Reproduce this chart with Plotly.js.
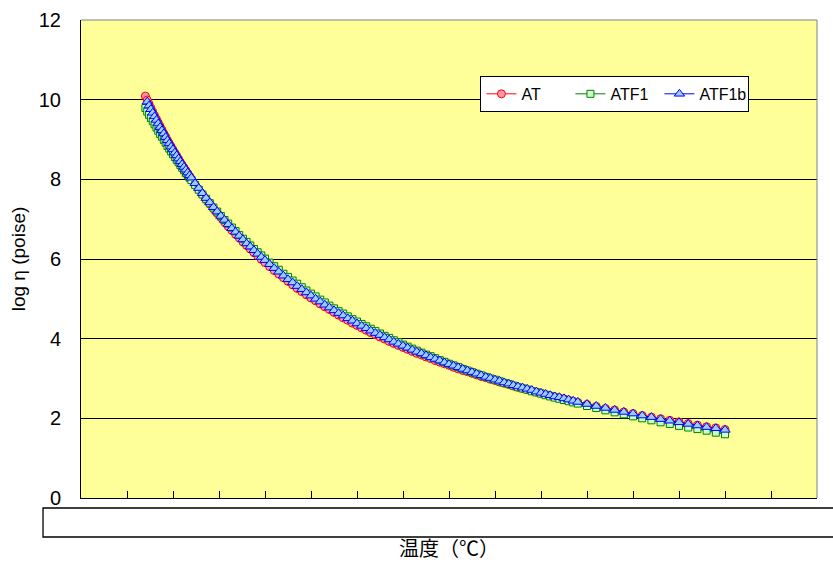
<!DOCTYPE html>
<html>
<head>
<meta charset="utf-8">
<script src="https://cdn.plot.ly/plotly-3.0.1.min.js"></script>
<style>
  html, body { margin: 0; padding: 0; background: #ffffff; }
  #chart { width: 833px; height: 562px; }
</style>
</head>
<body>
<div id="chart"></div>
<script>
// Temperatures (°C) at which viscosity was evaluated
const temps = [
  470,472,474,476,478,480,482,484,486,488,490,492,494,496,498,500,502,504,506,508,510,512,514,516,518,520,
  524,528,532,536,540,544,548,552,556,560,564,568,572,576,580,584,588,592,596,600,
  605,610,615,620,625,630,635,640,645,650,655,660,665,670,675,680,685,690,695,700,
  705,710,715,720,725,730,735,740,745,750,755,760,765,770,775,780,785,790,795,800,
  805,810,815,820,825,830,835,840,845,850,855,860,865,870,875,880,885,890,895,900,
  905,910,915,920,925,930,935,
  940,950,960,970,980,990,1000,1010,1020,1030,1040,1050,1060,1070,1080,1090,1100
];

// log η (poise) for each glass
const logEtaAT = [
  10.09,9.99,9.89,9.79,9.69,9.60,9.51,9.42,9.33,9.24,9.15,9.07,8.98,8.90,8.82,8.74,8.66,8.59,8.51,8.43,8.36,8.29,8.22,8.15,8.08,8.01,
  7.87,7.74,7.62,7.49,7.38,7.26,7.15,7.04,6.93,6.82,6.72,6.62,6.53,6.43,6.34,6.25,6.16,6.08,5.99,5.91,
  5.81,5.71,5.62,5.53,5.44,5.35,5.26,5.18,5.10,5.02,4.95,4.87,4.80,4.73,4.66,4.59,4.52,4.46,4.39,4.33,
  4.27,4.21,4.15,4.10,4.04,3.99,3.93,3.88,3.83,3.78,3.73,3.68,3.63,3.59,3.54,3.50,3.45,3.41,3.37,3.33,
  3.28,3.24,3.20,3.17,3.13,3.09,3.05,3.02,2.98,2.95,2.91,2.88,2.85,2.81,2.78,2.75,2.72,2.69,2.66,2.63,
  2.60,2.57,2.54,2.51,2.49,2.46,2.43,
  2.40,2.35,2.30,2.25,2.21,2.16,2.12,2.07,2.03,1.99,1.95,1.91,1.87,1.83,1.79,1.76,1.72
];

const logEtaATF1 = [
  9.79,9.70,9.62,9.54,9.46,9.38,9.30,9.22,9.14,9.07,8.99,8.92,8.84,8.77,8.70,8.63,8.56,8.49,8.43,8.36,8.29,8.23,8.16,8.10,8.04,7.98,
  7.86,7.74,7.62,7.51,7.40,7.29,7.19,7.08,6.98,6.89,6.79,6.70,6.60,6.51,6.43,6.34,6.25,6.17,6.09,6.01,
  5.91,5.82,5.73,5.63,5.55,5.46,5.38,5.29,5.21,5.13,5.06,4.98,4.91,4.83,4.76,4.69,4.63,4.56,4.49,4.43,
  4.37,4.31,4.25,4.19,4.13,4.07,4.02,3.96,3.91,3.85,3.80,3.75,3.70,3.65,3.60,3.56,3.51,3.46,3.42,3.37,
  3.33,3.29,3.24,3.20,3.16,3.12,3.08,3.04,3.00,2.97,2.93,2.89,2.86,2.82,2.78,2.75,2.72,2.68,2.65,2.62,
  2.58,2.55,2.52,2.49,2.46,2.43,2.40,
  2.37,2.31,2.26,2.20,2.15,2.10,2.05,2.00,1.95,1.90,1.86,1.81,1.77,1.73,1.69,1.64,1.60
];

// ATF1b series begins one step later (472 °C)
const logEtaATF1b = [
  9.95,9.85,9.76,9.67,9.58,9.49,9.40,9.31,9.23,9.15,9.06,8.98,8.90,8.82,8.75,8.67,8.60,8.52,8.45,8.38,8.31,8.24,8.17,8.10,8.04,
  7.90,7.78,7.65,7.53,7.42,7.30,7.19,7.08,6.98,6.87,6.77,6.68,6.58,6.49,6.39,6.31,6.22,6.13,6.05,5.97,
  5.87,5.77,5.68,5.58,5.49,5.41,5.32,5.24,5.16,5.08,5.00,4.93,4.85,4.78,4.71,4.64,4.58,4.51,4.45,4.38,
  4.32,4.26,4.20,4.14,4.09,4.03,3.98,3.92,3.87,3.82,3.77,3.72,3.67,3.63,3.58,3.53,3.49,3.45,3.40,3.36,
  3.32,3.28,3.24,3.20,3.16,3.12,3.08,3.04,3.01,2.97,2.94,2.90,2.87,2.83,2.80,2.77,2.74,2.71,2.67,2.64,
  2.61,2.58,2.55,2.53,2.50,2.47,2.44,
  2.41,2.36,2.31,2.26,2.21,2.16,2.12,2.07,2.03,1.98,1.94,1.90,1.86,1.82,1.78,1.75,1.71
];

const seriesNames = ['AT', 'ATF1', 'ATF1b'];
const xTitle = '温度（℃）';
const yTitle = 'log η (poise)';

const LATIN = '"Liberation Sans", "Noto Sans CJK JP", sans-serif';
const CJK = '"Noto Sans CJK JP", "Liberation Sans", sans-serif';

// align each series with the tail of the temperature list
function xsFor(vals) { return temps.slice(temps.length - vals.length); }

const traces = [
  {
    name: seriesNames[0], x: xsFor(logEtaAT), y: logEtaAT,
    type: 'scatter', mode: 'lines+markers',
    line: { color: '#FF0000', width: 1 },
    marker: { symbol: 'circle', size: 8, color: '#FF99AA', line: { color: '#FF0000', width: 1 } }
  },
  {
    name: seriesNames[1], x: xsFor(logEtaATF1), y: logEtaATF1,
    type: 'scatter', mode: 'lines+markers',
    line: { color: '#008000', width: 1 },
    marker: { symbol: 'square', size: 7, color: '#CCFFCC', line: { color: '#008000', width: 1 } }
  },
  {
    name: seriesNames[2], x: xsFor(logEtaATF1b), y: logEtaATF1b,
    type: 'scatter', mode: 'lines+markers',
    line: { color: '#0000FF', width: 1 },
    marker: { symbol: 'triangle-up', size: 9, color: '#99CCFF', line: { color: '#0000FF', width: 1 } }
  }
];

const layout = {
  width: 833, height: 562,
  margin: { l: 81, r: 16, t: 20, b: 64 },
  paper_bgcolor: '#FFFFFF',
  plot_bgcolor: '#FFFF99',
  font: { family: LATIN, color: '#000000' },
  showlegend: true,
  legend: {
    orientation: 'h',
    x: 0.5427, y: 0.883, xanchor: 'left', yanchor: 'top',
    bgcolor: '#FFFFFF', bordercolor: '#000000', borderwidth: 1,
    entrywidth: 44, entrywidthmode: 'pixels',
    font: { family: LATIN, size: 16, color: '#000000' }
  },
  xaxis: {
    range: [400, 1200], tick0: 400, dtick: 50,
    ticks: 'inside', ticklen: 7, tickcolor: '#000000', tickwidth: 1,
    showticklabels: false, showgrid: false, zeroline: false,
    showline: true, linecolor: '#000000', linewidth: 1,
    title: { text: xTitle, font: { family: CJK, size: 20 }, standoff: 45 }
  },
  yaxis: {
    range: [0, 12], tick0: 0, dtick: 2,
    ticks: '', showgrid: true, gridcolor: '#000000', gridwidth: 1,
    zeroline: false, showline: true, linecolor: '#000000', linewidth: 1,
    tickfont: { family: LATIN, size: 20 }, ticklabelstandoff: 15,
    title: { text: yTitle, font: { family: LATIN, size: 19 }, standoff: 8 }
  },
  shapes: [
    // grey frame on top and right of the plotting area
    { type: 'line', xref: 'paper', yref: 'paper', x0: 0, x1: 1, y0: 1, y1: 1, line: { color: '#808080', width: 1 } },
    { type: 'line', xref: 'paper', yref: 'paper', x0: 1, x1: 1, y0: 0, y1: 1, line: { color: '#808080', width: 1 } },
    // empty label band under the axis
    { type: 'rect', xref: 'paper', yref: 'paper', x0: -0.0516, x1: 1.031, y0: -0.0816, y1: -0.0209,
      fillcolor: '#FFFFFF', line: { color: '#000000', width: 1.3 } }
  ]
};

Plotly.newPlot('chart', traces, layout, { displayModeBar: false, staticPlot: true });
</script>
</body>
</html>
